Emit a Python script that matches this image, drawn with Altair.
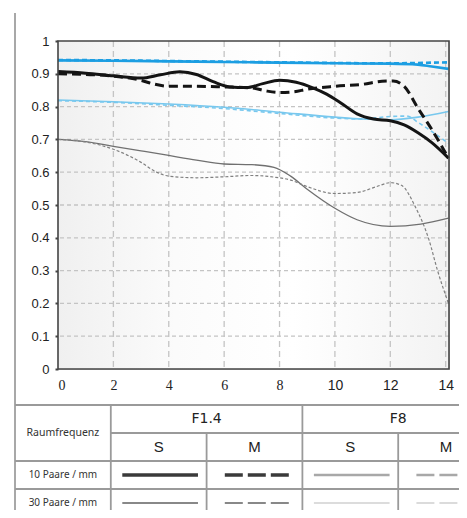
import altair as alt
import pandas as pd

# ---------------- data ----------------
# F1.4, 10 lp/mm, sagittal (black solid)
x_f14_10_s = [0, 1, 2, 3, 3.7, 4.4, 5, 5.6, 6.2, 6.8, 7.4, 8.0, 8.6, 9.2, 9.7, 10.2, 10.8, 11.4, 12, 12.5, 13, 13.5, 14.1]
y_f14_10_s = [0.907, 0.902, 0.894, 0.887, 0.897, 0.906, 0.898, 0.876, 0.860, 0.858, 0.870, 0.880, 0.874, 0.857, 0.838, 0.812, 0.778, 0.762, 0.757, 0.744, 0.720, 0.690, 0.643]
# F1.4, 10 lp/mm, meridional (black dashed)
x_f14_10_m = [0, 1, 2, 3, 3.5, 4, 5, 6, 7, 7.5, 8, 8.5, 9, 10, 11, 11.7, 12.1, 12.5, 13, 13.5, 14.1]
y_f14_10_m = [0.900, 0.898, 0.893, 0.880, 0.868, 0.862, 0.862, 0.860, 0.857, 0.848, 0.843, 0.845, 0.853, 0.862, 0.868, 0.877, 0.878, 0.862, 0.795, 0.730, 0.643]
# F1.4, 30 lp/mm, sagittal (gray solid)
x_f14_30_s = [0, 1, 2, 3, 4, 5, 6, 7, 7.8, 8.4, 9, 10, 10.8, 12, 13.1, 14.1]
y_f14_30_s = [0.700, 0.693, 0.679, 0.665, 0.651, 0.637, 0.625, 0.623, 0.615, 0.588, 0.548, 0.490, 0.455, 0.435, 0.442, 0.460]
# F1.4, 30 lp/mm, meridional (gray dashed)
x_f14_30_m = [0, 1, 2, 3, 3.5, 4, 5, 6, 7, 7.8, 8.4, 9, 10, 10.8, 11.5, 12, 12.4, 12.9, 13.4, 13.7, 14.1]
y_f14_30_m = [0.700, 0.692, 0.670, 0.630, 0.603, 0.588, 0.583, 0.586, 0.590, 0.585, 0.576, 0.556, 0.535, 0.538, 0.556, 0.568, 0.560, 0.495, 0.393, 0.302, 0.200]
# F8, 10 lp/mm, sagittal (blue solid)
x_f8_10_s = [0, 2, 4, 6, 8, 10, 12, 13, 13.5, 14.1]
y_f8_10_s = [0.941, 0.940, 0.938, 0.936, 0.934, 0.932, 0.931, 0.928, 0.922, 0.915]
# F8, 10 lp/mm, meridional (blue dashed)
x_f8_10_m = [0, 2, 4, 6, 8, 10, 12, 13, 13.5, 14.1]
y_f8_10_m = [0.942, 0.941, 0.939, 0.937, 0.935, 0.933, 0.932, 0.933, 0.934, 0.935]
# F8, 30 lp/mm, sagittal (light blue solid)
x_f8_30_s = [0, 2, 4, 6, 8, 10, 11, 12, 13, 14.1]
y_f8_30_s = [0.820, 0.815, 0.808, 0.798, 0.783, 0.768, 0.762, 0.760, 0.768, 0.785]
# F8, 30 lp/mm, meridional (light blue dashed)
x_f8_30_m = [0, 2, 4, 6, 8, 10, 11, 12, 12.6, 13, 13.5, 14.1]
y_f8_30_m = [0.818, 0.813, 0.804, 0.794, 0.779, 0.765, 0.762, 0.770, 0.771, 0.752, 0.724, 0.688]

x_ticks = [0, 2, 4, 6, 8, 10, 12, 14]
y_ticks = [0, 0.1, 0.2, 0.3, 0.4, 0.5, 0.6, 0.7, 0.8, 0.9, 1.0]

apertures = ["F1.4", "F8"]
orientations = ["S", "M"]
frequencies = ["10 Paare / mm", "30 Paare / mm"]
row_header = "Raumfrequenz"

# ---------------- styles ----------------
series = [
    (x_f14_30_s, y_f14_30_s, "#707070", 1.3, None),
    (x_f14_30_m, y_f14_30_m, "#808080", 1.2, [3, 2]),
    (x_f8_30_s, y_f8_30_s, "#78c8ee", 1.6, None),
    (x_f8_30_m, y_f8_30_m, "#78c8ee", 1.6, [4, 3]),
    (x_f8_10_s, y_f8_10_s, "#1c9ee2", 2.6, None),
    (x_f8_10_m, y_f8_10_m, "#1c9ee2", 2.6, [5, 3]),
    (x_f14_10_s, y_f14_10_s, "#141414", 3.0, None),
    (x_f14_10_m, y_f14_10_m, "#141414", 3.0, [9, 5]),
]

W, H = 391, 328
xscale = alt.Scale(domain=[0, 14.12], nice=False, zero=False)
yscale = alt.Scale(domain=[0, 1], nice=False, zero=False)

xenc = alt.X("x:Q", scale=xscale,
             axis=alt.Axis(values=x_ticks, title=None, grid=False, ticks=False, domain=False,
                           labelFontSize=14, labelColor="#222", labelPadding=9,
                           labelFont=alt.condition("datum.value < 10", alt.value("Liberation Serif"), alt.value("Liberation Sans"))))
yenc = alt.Y("y:Q", scale=yscale,
             axis=alt.Axis(values=y_ticks, title=None, format=".1~f", grid=False,
                           tickSize=3, tickWidth=2, tickColor="#444", domain=False,
                           labelFontSize=13, labelFont="Liberation Sans", labelColor="#222",
                           labelPadding=6))

bg = alt.Chart(alt.Data(values=[{"a": 1}])).mark_rect(
    fill=alt.Gradient(gradient="linear", x1=0, x2=1, y1=0, y2=0,
                      stops=[alt.GradientStop(offset=0, color="#f0f0f0"),
                             alt.GradientStop(offset=0.3, color="#fbfbfb"),
                             alt.GradientStop(offset=0.6, color="#ffffff"),
                             alt.GradientStop(offset=1, color="#f3f3f3")])
).encode(x=alt.value(0), x2=alt.value(W), y=alt.value(0), y2=alt.value(H))

vgrid = alt.Chart(pd.DataFrame({"x": x_ticks[1:]})).mark_rule(
    color="#c4c4c4", strokeWidth=1.3, strokeDash=[6, 4]).encode(x=xenc)
hgrid = alt.Chart(pd.DataFrame({"y": y_ticks[1:-1]})).mark_rule(
    color="#c4c4c4", strokeWidth=1.3, strokeDash=[4, 3]).encode(y=yenc)

line_layers = []
for xs, ys, col, wd, dash in series:
    kw = dict(color=col, strokeWidth=wd, interpolate="monotone")
    if dash:
        kw["strokeDash"] = dash
    line_layers.append(
        alt.Chart(pd.DataFrame({"x": xs, "y": ys})).mark_line(**kw).encode(x=xenc, y=yenc)
    )

frame = alt.Chart(alt.Data(values=[{"a": 1}])).mark_rect(
    fillOpacity=0, stroke="#444444", strokeWidth=1.6
).encode(x=alt.value(0), x2=alt.value(W), y=alt.value(0), y2=alt.value(H))

plot = alt.layer(bg, vgrid, hgrid, *line_layers, frame)

# ---------------- table (legend) ----------------
tx = alt.Scale(domain=[0, 5], range=[-43, 436], nice=False, zero=False)
ty = alt.Scale(domain=[0, 4], range=[364, 476], nice=False, zero=False)

def TX(f):
    return alt.X(f, type="quantitative", scale=tx, axis=None)

def TY(f):
    return alt.Y(f, type="quantitative", scale=ty, axis=None)

segs = []
for y0, xa in [(0, 0), (1, 1), (2, 0), (3, 0), (4, 0)]:
    segs.append({"x": xa, "x2": 5, "y": y0, "y2": y0})
for x0, ya in [(1, 0), (2, 1), (3, 0), (4, 1), (5, 0)]:
    segs.append({"x": x0, "x2": x0, "y": ya, "y2": 4})
grid_rules = alt.Chart(pd.DataFrame(segs)).mark_rule(color="#9a9a9a", strokeWidth=1.8).encode(
    x=TX("x"), x2="x2", y=TY("y"), y2="y2")
outer = alt.Chart(pd.DataFrame([{"x": 0, "x2": 0, "y": -14, "y2": 4}])).mark_rule(
    color="#a8a8a8", strokeWidth=2).encode(x=TX("x"), x2="x2", y=TY("y"), y2="y2")

hdr = pd.DataFrame([{"x": 2 + 2 * i, "y": 0.5, "t": a} for i, a in enumerate(apertures)])
hdr_t = alt.Chart(hdr).mark_text(font="DejaVu Sans", fontSize=14, color="#222").encode(
    x=TX("x"), y=TY("y"), text="t:N")
sm = pd.DataFrame([{"x": 1.5 + k, "y": 1.5, "t": orientations[k % 2]} for k in range(4)])
sm_t = alt.Chart(sm).mark_text(font="Liberation Sans", fontSize=15, color="#222").encode(
    x=TX("x"), y=TY("y"), text="t:N")
rf_t = alt.Chart(pd.DataFrame([{"x": 0.5, "y": 1.0, "t": row_header}])).mark_text(
    font="Noto Sans", fontSize=10.5, color="#333").encode(x=TX("x"), y=TY("y"), text="t:N")
fr = pd.DataFrame([{"x": 0.5, "y": 2.5 + i, "t": f} for i, f in enumerate(frequencies)])
fr_t = alt.Chart(fr).mark_text(font="Noto Sans", fontSize=10, color="#333").encode(
    x=TX("x"), y=TY("y"), text="t:N")

sample_styles = {
    (0, 0): ("#3a3a3a", 3.5), (0, 1): ("#a8a8a8", 2.5),
    (1, 0): ("#888888", 1.8), (1, 1): ("#d0d0d0", 1.5),
}
samples = []
for r in range(2):
    for ai in range(2):
        col, wd = sample_styles[(r, ai)]
        for oi in range(2):
            c = 1 + 2 * ai + oi
            if oi == 0:
                d = {"x": c + 0.12, "x2": c + 0.91, "y": 2.5 + r}
                m = alt.Chart(pd.DataFrame([d])).mark_rule(color=col, strokeWidth=wd)
            else:
                d = {"x": c + 0.19, "x2": c + 0.86, "y": 2.5 + r}
                m = alt.Chart(pd.DataFrame([d])).mark_rule(color=col, strokeWidth=wd, strokeDash=[18, 5])
            samples.append(m.encode(x=TX("x"), x2="x2", y=TY("y")))

table = alt.layer(outer, grid_rules, hdr_t, sm_t, rf_t, fr_t, *samples)

chart = alt.layer(plot, table).resolve_scale(x="independent", y="independent").properties(
    width=W, height=H, autosize="none",
    padding={"left": 50, "top": 33, "right": 10, "bottom": 141},
).configure_view(stroke=None).configure(background="white")

chart.save("out.html", embed_options={"renderer": "svg", "actions": False})
